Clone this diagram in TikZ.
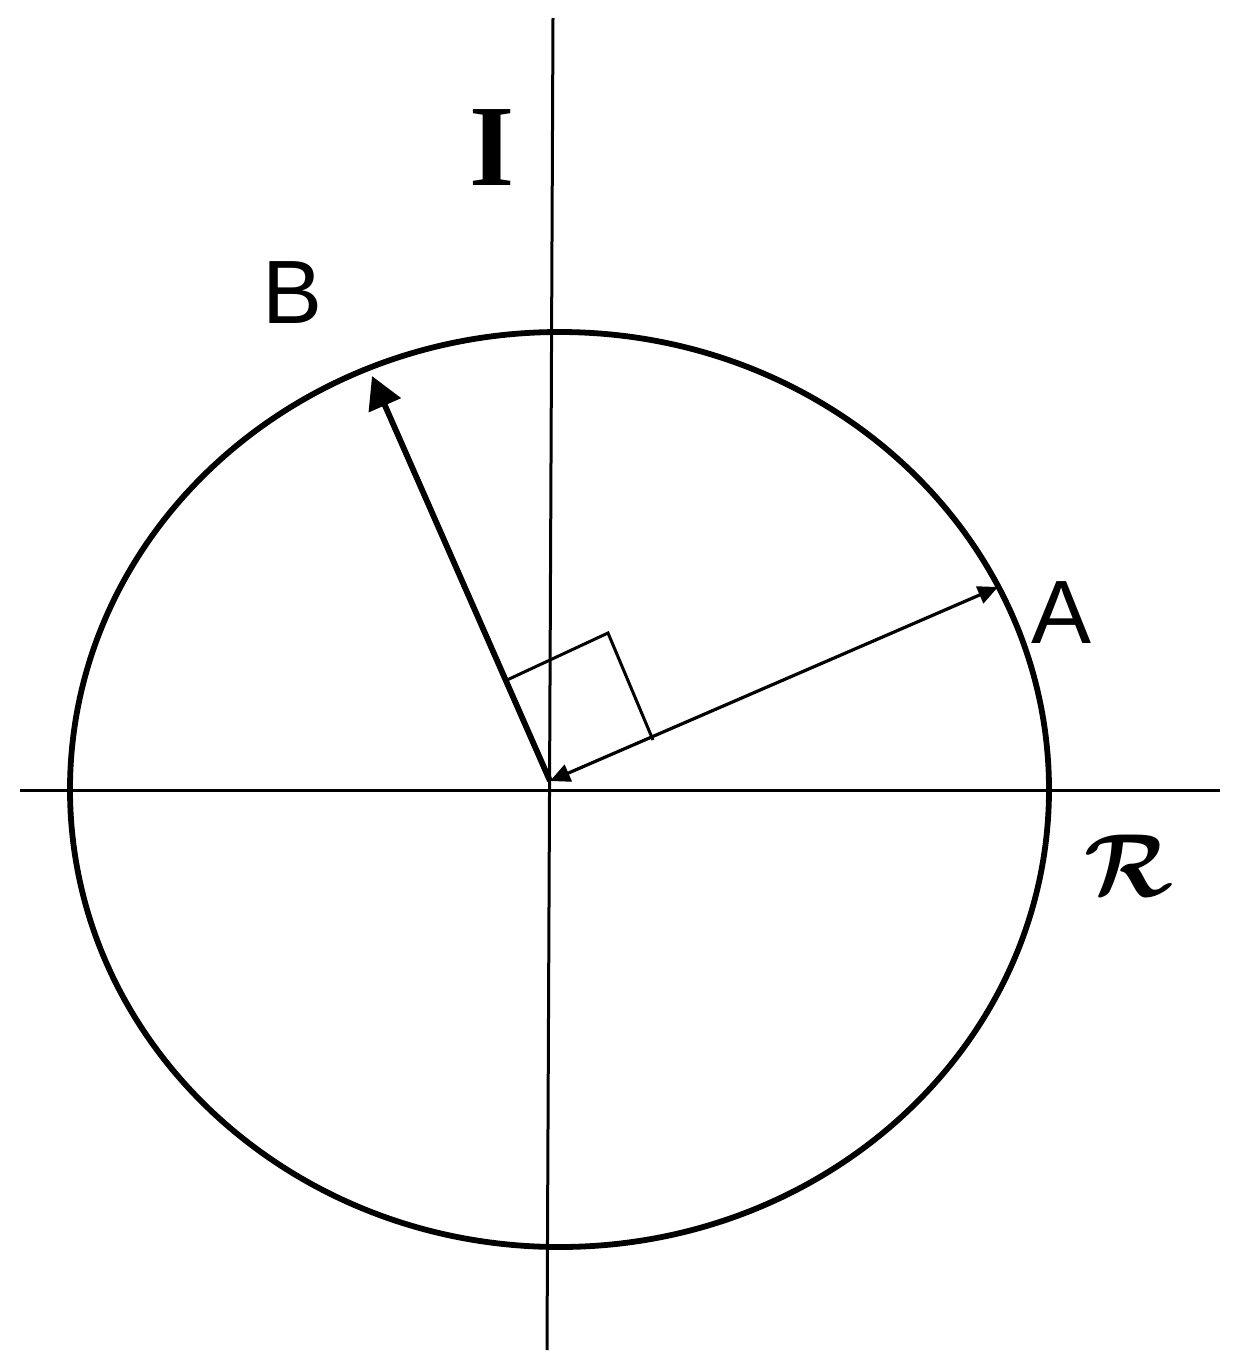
\documentclass[tikz,border=0pt]{standalone}
\usepackage{fontspec}
\setmainfont{Liberation Sans}
\newfontfamily\serifbold{Liberation Serif}
\usepackage{amsmath}
\usetikzlibrary{arrows.meta}
\tikzset{
    axis line/.style = {
        draw = black,
        line width = 1.5pt
    },
    unit vec/.style = {
        draw = black,
        line width = #1
    },
    big label/.style = {
        font = \fontsize{45}{50}\selectfont,
        inner sep = 0pt
    }
}

\begin{document}
\begin{tikzpicture}[x=0.5pt, y=-0.5pt, line join=miter]
      \useasboundingbox (0,0) rectangle (1237,1371);
      \coordinate (O) at (550,781);
      \coordinate (Atip) at (998,587);
      \coordinate (Btip) at (372,376);

      % axes
      \draw [axis line] (20,790) -- (1220,790);
      \draw [axis line] (553,18) -- (547,1350);

      % circle
      \draw [line width=2.9pt] (559.5,789.5) ellipse [x radius=489.5, y radius=457.5];

      % right angle mark
      \coordinate (m1) at (507,680);
      \coordinate (m2) at (608,633);
      \coordinate (m3) at (653,740);
      \draw [line width=1.5pt] (m1) -- (m2) -- (m3);

      % vectors
      \draw [unit vec=1.6pt, {Triangle[length=10pt, width=9pt]}-{Triangle[length=10pt, width=9pt]}] (O) -- (Atip);
      \draw [unit vec=2.9pt, -{Triangle[length=16pt, width=17pt]}] (O) -- (Btip);

      % labels
      \node (A) at (1062,613) [big label] {A};
      \node (B) at (293,293) [big label] {B};
      \node (I) at (492,148) [inner sep=0pt, font=\fontsize{58}{60}\selectfont\serifbold\bfseries] {I};
      \node (R) at (1129,866) [inner sep=0pt, font=\Huge, scale=1.8] {$\boldsymbol{\mathcal{R}}$};
\end{tikzpicture}
\end{document}
